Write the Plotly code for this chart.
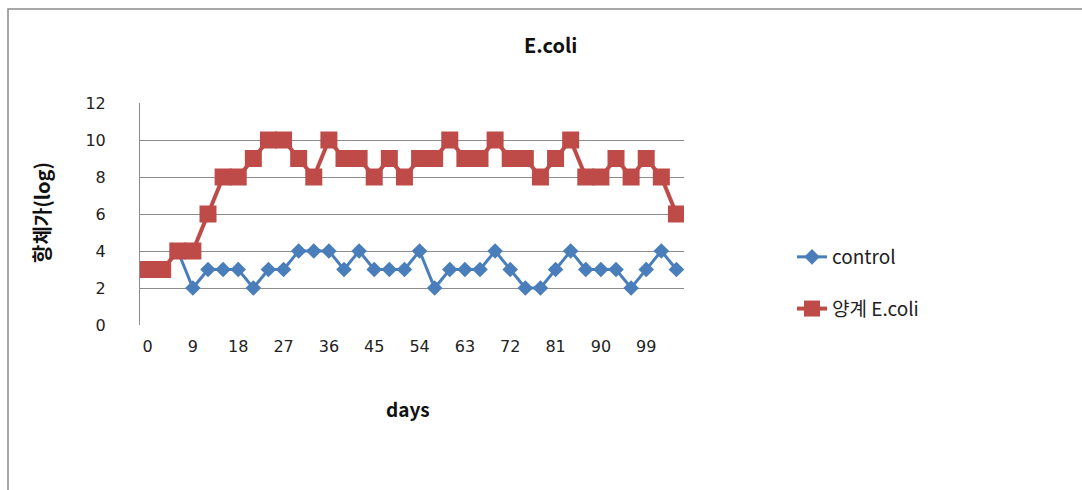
import plotly.graph_objects as go

days = list(range(0, 108, 3))
control = [3, 3, 4, 2, 3, 3, 3, 2, 3, 3, 4, 4, 4, 3, 4, 3, 3, 3,
           4, 2, 3, 3, 3, 4, 3, 2, 2, 3, 4, 3, 3, 3, 2, 3, 4, 3]
ecoli = [3, 3, 4, 4, 6, 8, 8, 9, 10, 10, 9, 8, 10, 9, 9, 8, 9, 8,
         9, 9, 10, 9, 9, 10, 9, 9, 8, 9, 10, 8, 8, 9, 8, 9, 8, 6]
y_ticks = [0, 2, 4, 6, 8, 10, 12]
x_ticks = days[::3]

L, R, T, B = 140, 684, 103, 325
W, H = 1082, 490
PW, PH = R - L, B - T

def px(x):
    return (x - L) / PW

def py(y):
    return (B - y) / PH

fig = go.Figure()
fig.add_trace(go.Scatter(
    x=days, y=control, name="control", mode="lines+markers",
    line=dict(color="#4A7EBB", width=3),
    marker=dict(symbol="diamond", size=12, color="#4A7EBB"),
    legendgroup="a"))
fig.add_trace(go.Scatter(
    x=days, y=ecoli, name="양계 E.coli", mode="lines+markers",
    line=dict(color="#BE4B48", width=4),
    marker=dict(symbol="square", size=17, color="#BE4B48"),
    legendgroup="b"))

tickfont = dict(family="DejaVu Sans", size=16, color="#222222")
title_font = "Noto Sans CJK KR"
fig.update_layout(
    width=W, height=H,
    font=dict(family="DejaVu Sans"),
    margin=dict(l=L, r=W - R, t=T, b=H - B, pad=0),
    paper_bgcolor="white", plot_bgcolor="white",
    showlegend=True,
    legend=dict(x=px(792), y=py(238), xanchor="left", yanchor="top",
                font=dict(family=title_font, size=19, color="#222222"),
                tracegroupgap=24, bgcolor="rgba(0,0,0,0)"),
    xaxis=dict(range=[-1.5, 106.5], tickmode="array", tickvals=x_ticks,
               ticktext=[str(v) for v in x_ticks], showgrid=False,
               zeroline=False, showline=False, ticks="", tickfont=tickfont,
               ticklabelstandoff=10),
    yaxis=dict(range=[0, 12], tickmode="array", tickvals=y_ticks,
               showgrid=True, gridcolor="#8C8C8C", gridwidth=1,
               zeroline=False, showline=True, linecolor="#8C8C8C", linewidth=1,
               ticks="", tickfont=tickfont, ticklabelstandoff=30),
    shapes=[dict(type="rect", xref="paper", yref="paper",
                 x0=px(8), x1=px(1095), y0=py(9), y1=py(500),
                 line=dict(color="#8C8C8C", width=1.5), fillcolor="rgba(0,0,0,0)",
                 layer="below")],
    annotations=[
        dict(text="<b>E.coli</b>", xref="paper", yref="paper", x=px(550), y=py(44),
             xanchor="center", yanchor="middle", showarrow=False,
             font=dict(family=title_font, size=20, color="#111111")),
        dict(text="<b>days</b>", xref="paper", yref="paper", x=px(408), y=py(408),
             xanchor="center", yanchor="middle", showarrow=False,
             font=dict(family=title_font, size=19, color="#111111")),
        dict(text="<b>항체가(log)</b>", xref="paper", yref="paper", x=px(41), y=py(213),
             xanchor="center", yanchor="middle", showarrow=False, textangle=-90,
             font=dict(family=title_font, size=20, color="#111111")),
    ],
)

fig.write_html("out.html")
